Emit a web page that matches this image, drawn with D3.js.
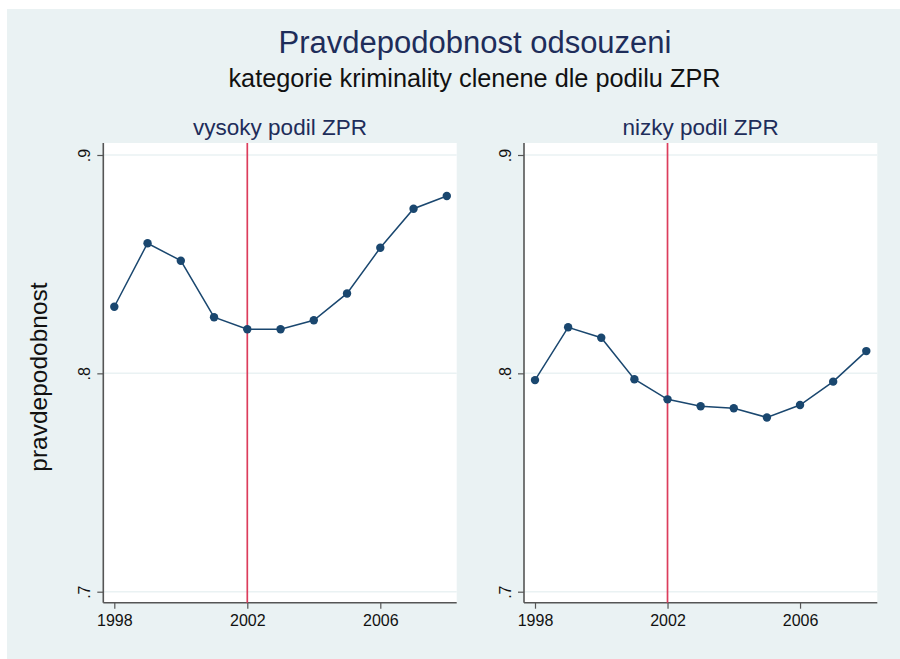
<!DOCTYPE html>
<html>
<head>
<meta charset="utf-8">
<script src="https://cdn.jsdelivr.net/npm/d3@7"></script>
<style>
    body { margin: 0; background: #fff; }
    text { font-family: "Liberation Sans", Arial, sans-serif; }
</style>
</head>
<body>
<div id="wrapper"></div>
<script>
const years = [1998, 1999, 2000, 2001, 2002, 2003, 2004, 2005, 2006, 2007, 2008]
const vysoky = [0.8305, 0.8596, 0.8516, 0.8257, 0.8202, 0.8202, 0.8243, 0.8366, 0.8575, 0.8754, 0.8812]
const nizky = [0.7969, 0.8211, 0.8163, 0.7973, 0.7881, 0.7849, 0.7840, 0.7798, 0.7855, 0.7962, 0.8102]
const panelTitles = ["vysoky podil ZPR", "nizky podil ZPR"]
const yTicks = [0.7, 0.8, 0.9]
const xTicks = [1998, 2002, 2006]
const markerYear = 2002

function drawChart() {
    let dimensions = {
        width: 900,
        height: 659,
        panelTop: 143,
        panelBottom: 602.7,
    }

    // each panel: plot box and where the first/last year sit
    const panels = [
        { left: 103.3, right: 456.7, x0: 114.3, x1: 446.8, values: vysoky, title: panelTitles[0] },
        { left: 524, right: 877.3, x0: 535, x1: 866.3, values: nizky, title: panelTitles[1] },
    ]

    const wrapper = d3.select("#wrapper")
        .append("svg")
        .attr("width", dimensions.width)
        .attr("height", dimensions.height)

    // graph region background
    wrapper.append("rect")
        .attr("x", 7)
        .attr("y", 9)
        .attr("width", dimensions.width - 7)
        .attr("height", dimensions.height - 9)
        .attr("fill", "#eaf2f3")

    wrapper.append("text")
        .attr("x", 475)
        .attr("y", 53)
        .attr("text-anchor", "middle")
        .style("font-size", "31px")
        .attr("fill", "#1e2d5a")
        .text("Pravdepodobnost odsouzeni")

    wrapper.append("text")
        .attr("x", 474.5)
        .attr("y", 87)
        .attr("text-anchor", "middle")
        .style("font-size", "25.3px")
        .attr("fill", "#111")
        .text("kategorie kriminality clenene dle podilu ZPR")

    wrapper.append("text")
        .attr("transform", "translate(47,377) rotate(-90)")
        .attr("text-anchor", "middle")
        .style("font-size", "24.5px")
        .attr("fill", "#111")
        .text("pravdepodobnost")

    const yScaler = d3.scaleLinear()
        .domain([0.7, 0.9])
        .range([591.7, 155])

    panels.forEach(p => {
        const xScaler = d3.scaleLinear()
            .domain([years[0], years[years.length - 1]])
            .range([p.x0, p.x1])

        const bounds = wrapper.append("g")

        bounds.append("rect")
            .attr("x", p.left)
            .attr("y", dimensions.panelTop)
            .attr("width", p.right - p.left)
            .attr("height", dimensions.panelBottom - dimensions.panelTop)
            .attr("fill", "#fff")

        bounds.append("text")
            .attr("x", (p.left + p.right) / 2)
            .attr("y", 135)
            .attr("text-anchor", "middle")
            .style("font-size", "22.5px")
            .attr("fill", "#1e2d5a")
            .text(p.title)

        // grid
        bounds.append("g")
            .selectAll("line")
            .data(yTicks)
            .join("line")
            .attr("x1", p.left)
            .attr("x2", p.right)
            .attr("y1", d => yScaler(d))
            .attr("y2", d => yScaler(d))
            .attr("stroke", "#eaf2f3")
            .attr("stroke-width", 1.5)

        // y axis
        const yAxisGen = d3.axisLeft(yScaler)
            .tickValues(yTicks)
            .tickSize(6)
            .tickPadding(4)
            .tickFormat(d => d3.format(".1f")(d).replace(/^0/, ""))
        const yAxis = bounds.append("g")
            .attr("transform", `translate(${p.left},0)`)
            .call(yAxisGen)
        yAxis.select(".domain").remove()
        yAxis.selectAll(".tick line").attr("stroke", "#555").attr("stroke-width", 1.2)
        yAxis.selectAll(".tick text")
            .attr("x", null)
            .attr("dy", null)
            .attr("transform", "translate(-13,0) rotate(-90)")
            .attr("text-anchor", "middle")
            .style("font-size", "16px")
            .attr("fill", "#111")
        bounds.append("line")
            .attr("x1", p.left).attr("x2", p.left)
            .attr("y1", dimensions.panelTop).attr("y2", dimensions.panelBottom)
            .attr("stroke", "#555").attr("stroke-width", 1.6)

        // x axis
        const xAxisGen = d3.axisBottom(xScaler)
            .tickValues(xTicks)
            .tickSize(6)
            .tickPadding(6)
            .tickFormat(d3.format("d"))
        const xAxis = bounds.append("g")
            .attr("transform", `translate(0,${dimensions.panelBottom})`)
            .call(xAxisGen)
        xAxis.select(".domain").remove()
        xAxis.selectAll(".tick line").attr("stroke", "#555").attr("stroke-width", 1.2)
        xAxis.selectAll(".tick text")
            .style("font-size", "16px")
            .attr("fill", "#111")
        bounds.append("line")
            .attr("x1", p.left).attr("x2", p.right)
            .attr("y1", dimensions.panelBottom).attr("y2", dimensions.panelBottom)
            .attr("stroke", "#555").attr("stroke-width", 1.6)

        // 2002 marker line
        bounds.append("line")
            .attr("x1", xScaler(markerYear)).attr("x2", xScaler(markerYear))
            .attr("y1", dimensions.panelTop).attr("y2", dimensions.panelBottom)
            .attr("stroke", "#dc3d5c")
            .attr("stroke-width", 1.7)

        const lineGen = d3.line()
            .x((d, i) => xScaler(years[i]))
            .y(d => yScaler(d))

        bounds.append("path")
            .datum(p.values)
            .attr("d", lineGen)
            .attr("fill", "none")
            .attr("stroke", "#1a476f")
            .attr("stroke-width", 1.5)

        bounds.append("g")
            .selectAll("circle")
            .data(p.values)
            .join("circle")
            .attr("cx", (d, i) => xScaler(years[i]))
            .attr("cy", d => yScaler(d))
            .attr("r", 4.2)
            .attr("fill", "#1a476f")
    })
}

drawChart()
</script>
</body>
</html>
